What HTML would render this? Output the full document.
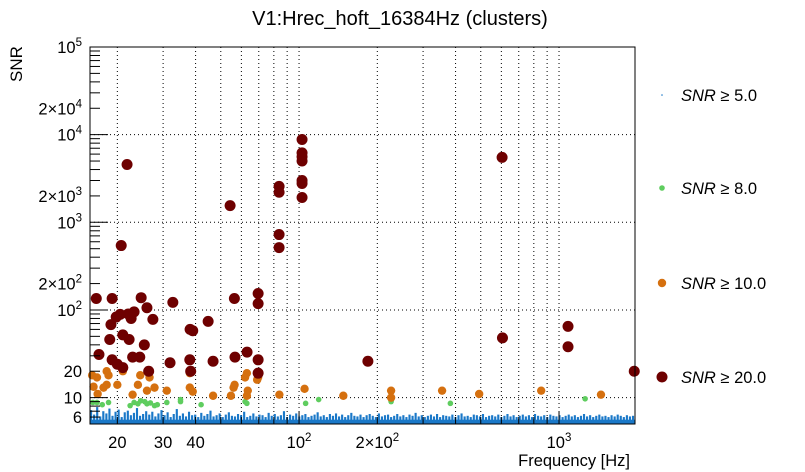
<!DOCTYPE html>
<html><head><meta charset="utf-8"><style>
body{margin:0;background:#fff}
svg{display:block;font-family:"Liberation Sans",sans-serif}
</style></head><body>
<svg id="c" width="805" height="472" xmlns="http://www.w3.org/2000/svg">
<rect x="0" y="0" width="805" height="472" fill="#fff"/>
<text x="400" y="25" font-size="20" text-anchor="middle">V1:Hrec_hoft_16384Hz (clusters)</text>
<g id="grid"></g>
<g id="blue"></g>
<g id="pts"></g>
<rect x="90" y="47" width="545" height="377" fill="none" stroke="#000" stroke-width="1"/>
<g id="axes"></g>
<text x="630" y="466" font-size="16.5" text-anchor="end">Frequency [Hz]</text>
<text transform="translate(22,82) rotate(-90)" font-size="17" text-anchor="start">SNR</text>
<g id="legend"></g>
</svg>
<script>
const xMin=15.7, xMax=1960, yMin=5, yMax=1e5;
const xTicks=[20,30,40,100,200,1000];
const xTickLabels=["20","30","40","10|2","2×10|2","10|3"];
const yTicks=[6,10,20,100,200,1000,2000,10000,20000,100000];
const yTickLabels=["6","10","20","10|2","2×10|2","10|3","2×10|3","10|4","2×10|4","10|5"];
const redF=[16.6,19.1,21.8,20.7,18.9,19.8,20.5,22,23.2,24.7,26,27.4,22.6,18.7,17,19.1,20,21,24.4,25.4,26.4,22.9,22.2,21,31.9,32.7,38.1,39,38,38.3,44.7,46.7,56.7,56.4,63.1,69.6,69.6,69.6,69.6,54.3,83.8,83.8,83.8,83.8,102.7,102.7,102.7,102.7,102.7,102.7,102.7,184,604,606,1083,1083,1947];
const redS=[135,135,4570,543,68,83,89,90,95,138,106,78,80,46,31,27,24,22,29,40,20,29,46,52,25,122,60,58,27,20,74,26,29,135,33,154,118,27,19,1550,725,515,2570,2200,8800,6200,5600,5000,3000,2770,1920,26,5500,48,65,38,20];
const orF=[16,16.2,16.7,16.8,17.7,18.2,18.2,18.5,20,21,24.5,24,22.9,26,27.8,26.6,31,38,38,39,46.7,54.7,56,56.5,62,63,63.5,63,69,69.6,84,105,148,226,226,355,493,854,1450];
const orS=[18,13.3,17,11,13,14,20,18,14,20,18,14,10.8,12,13,17,12,19,13,11.7,10.5,10.5,13,14,17,19,12,10.5,16,17,10.8,12.6,10.5,12,10,12,11,12,10.8];
const grF=[16.1,16.7,17.5,18.5,22.4,23.2,24,24.6,25.5,26,26.8,27.8,28.5,31,35,35,42,62,63,106,119,226,382,1260];
const grS=[8.8,8.8,8.3,8.8,8.1,8.8,8.5,9.2,9.0,8.5,8.7,8.1,8.3,8.8,9,9.5,8.3,9,8.6,8.6,9.5,9,8.6,9.7];
const blueS=[7.2,6.4,7.8,6.1,7.0,6.6,7.5,6.2,6.9,7.3,6.0,6.8,7.1,6.3,6.7,7.6,6.2,6.5,7.0,6.4,6.9,6.1,6.6,7.2,6.3,6.8,6.0,6.5,7.4,6.2,6.6,6.1,6.9,6.3,6.4,6.0,6.7,6.2,6.5,7.1,6.1,6.3,6.6,6.0,6.4,6.8,6.2,6.1,6.5,6.3,6.9,6.0,6.2,6.6,6.1,6.4,6.3,6.0,6.7,6.2,6.5,6.1,6.3,7.0,6.0,6.4,6.2,6.6,6.1,6.3,6.5,6.0,6.2,6.4,6.8,6.1,6.3,6.0,6.5,6.2,6.6,6.1,6.4,6.0,6.3,6.7,6.2,6.1,6.4,6.0,6.3,6.5,6.2,6.0,6.6,6.1,6.3,6.4,6.0,6.2,6.5,6.1,6.3,6.0,6.4,6.2,6.7,6.1,6.3,6.0,6.2,6.4,6.1,6.5,6.0,6.3,6.2,6.1,6.4,6.0,6.3,6.6,6.1,6.2,6.0,6.4,6.3,6.1,6.5,6.0,6.2,6.3,6.1,6.4,6.0,6.2,6.5,6.1,6.3,6.0,6.2,6.4,6.1,6.3,6.0,6.5,6.2,6.1,6.3,6.0,6.4,6.2,6.1,6.3,6.0,6.2,6.4,6.1,6.3,6.0,6.2,6.5,6.1,6.3,6.0,6.2,6.4,6.1,6.2,6.0,6.3,6.1,6.4,6.2,6.0,6.3,6.1,6.2];
const L=90,R=635,T=47,B=424,NS="http://www.w3.org/2000/svg";
const X=v=>L+(Math.log10(v)-Math.log10(xMin))/(Math.log10(xMax)-Math.log10(xMin))*(R-L);
const Y=v=>B-(Math.log10(v)-Math.log10(yMin))/(Math.log10(yMax)-Math.log10(yMin))*(B-T);
function mk(t,a,p){const e=document.createElementNS(NS,t);for(const k in a)e.setAttribute(k,a[k]);p.appendChild(e);return e;}
const grid=document.getElementById('grid'),axes=document.getElementById('axes');
for(let d=10;d<=1000;d*=10)for(let m=1;m<10;m++){const v=d*m;if(v<xMin||v>xMax)continue;const x=X(v);
const g=mk('line',{x1:x,x2:x,y1:T,y2:B,stroke:'#000','stroke-width':1,'stroke-dasharray':'1,3'},grid);

const t=mk('line',{x1:x,x2:x,y1:B,y2:B-(m==1?12:7),stroke:'#000'},axes);
}
for(let d=10;d<=10000;d*=10){const y=Y(d);const g=mk('line',{x1:L,x2:R,y1:y,y2:y,stroke:'#000','stroke-width':1,'stroke-dasharray':'1,3'},grid);
}
for(let d=1;d<=1e4;d*=10)for(let m=1;m<10;m++){const v=d*m;if(v<yMin||v>yMax)continue;const y=Y(v);
const t=mk('line',{x1:L,x2:L+(m==1?18:10),y1:y,y2:y,stroke:'#000'},axes);
}
{const t=mk('line',{x1:L,x2:L+18,y1:Y(1e5),y2:Y(1e5),stroke:'#000'},axes);}
function lab(txt,x,y,anchor){const parts=txt.split('|');const t=mk('text',{x:x,y:y,'font-size':16.5,'text-anchor':anchor},axes);
t.textContent=parts[0];if(parts[1]){const s=mk('tspan',{'font-size':11.5,dy:-7},t);s.textContent=parts[1];}return t;}
xTicks.forEach((v,i)=>{const t=lab(xTickLabels[i],X(v),448,'middle');});
yTicks.forEach((v,i)=>{const t=lab(yTickLabels[i],82,Y(v)+6,'end');});
const blue=document.getElementById('blue');const bw=(R-L)/blueS.length;
const base=mk('rect',{x:L,y:Y(5.6),width:R-L,height:B-Y(5.6),fill:'#1a78c8'},blue);

blueS.forEach((s,i)=>{const f=Math.pow(10,Math.log10(xMin)+(i+0.5)/blueS.length*(Math.log10(xMax)-Math.log10(xMin)));
const y=Y(s);const r=mk('rect',{x:X(f)-bw/2,y:y,width:bw*0.7,height:B-y,fill:'#1a78c8'},blue);
});
const pts=document.getElementById('pts');
function series(F,S,col,r,name){F.forEach((f,i)=>{const c=mk('circle',{cx:X(f),cy:Y(S[i]),r:r,fill:col},pts);
});}
series(grF,grS,'#5fcd5f',2.8,'snr8-point');
series(orF,orS,'#d5700f',4.2,'snr10-point');
series(redF,redS,'#6e0000',5.5,'snr20-point');
const leg=document.getElementById('legend');
[['5.0','#1a78c8',0.8,95],['8.0','#5fcd5f',2.8,188],['10.0','#d5700f',4.2,283],['20.0','#6e0000',5.5,377]].forEach(e=>{
const c=mk('circle',{cx:662,cy:e[3],r:e[2],fill:e[1]},leg);
const t=mk('text',{x:681,y:e[3]+6,'font-size':16.5},leg);
const a=mk('tspan',{'font-style':'italic'},t);a.textContent='SNR';const b=mk('tspan',{},t);b.textContent=' ≥ '+e[0];});
</script>
</body></html>
